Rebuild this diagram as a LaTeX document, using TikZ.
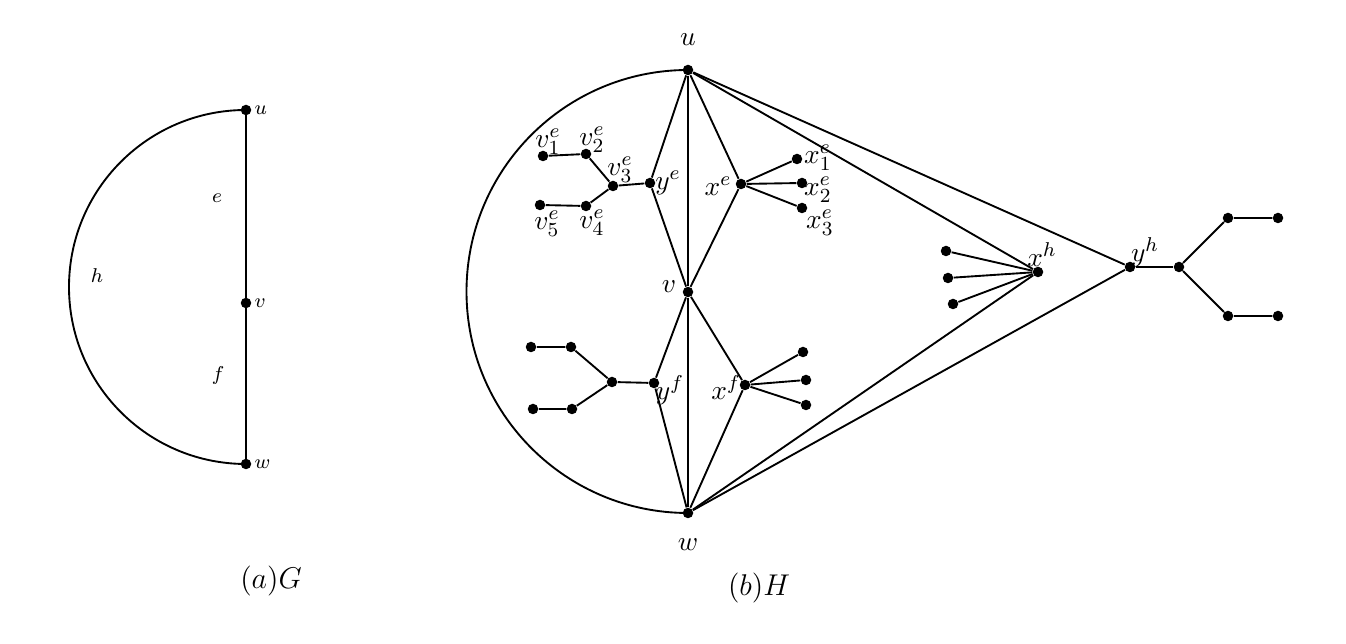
\documentclass[tikz,border=0pt]{standalone}
\usetikzlibrary{calc}
\begin{document}
\begin{tikzpicture}[x=0.4pt,y=0.4pt,
  dot/.style={circle,fill=black,draw=none,inner sep=0pt,minimum size=4.2pt},
  edge/.style={line width=0.75pt},
  lab/.style={inner sep=0pt,font=\fontsize{11}{13}\selectfont},
  slab/.style={inner sep=0pt,font=\footnotesize},
  captxt/.style={inner sep=0pt,font=\fontsize{12}{14}\selectfont}]
\useasboundingbox (0,0) rectangle (1346,644);
% ---------- (a) G ----------
\node[dot] (gu) at (246,534) {};
\node[dot] (gv) at (246,341) {};
\node[dot] (gw) at (246,180) {};
\draw[edge] (gu.center) -- (gv.center) -- (gw.center);
\draw[edge] (gu.center) arc[start angle=90,end angle=270,radius=70.8pt];
\node[slab,anchor=west] (lgu) at (254,534) {$u$};
\node[slab,anchor=west] (lgv) at (254,341) {$v$};
\node[slab,anchor=west] (lgw) at (254,180) {$w$};
\node[slab] (le) at (217,446) {$e$};
\node[slab] (lh) at (97,368) {$h$};
\node[slab] (lf) at (218,268) {$f$};
\node[captxt] (capa) at (271,63) {$(a)G$};
% ---------- (b) H ----------
\node[dot] (u) at (688,574) {};
\node[dot] (v) at (688,352) {};
\node[dot] (w) at (688,131) {};
\draw[edge] (u.center) arc[start angle=90,end angle=270,radius=88.6pt];
\draw[edge] (u) -- (v) -- (w);
% y^e tree
\node[dot] (ye) at (650,461) {};
\node[dot] (v3) at (613,458) {};
\node[dot] (v2) at (586,490) {};
\node[dot] (v1) at (543,488) {};
\node[dot] (v4) at (586,438) {};
\node[dot] (v5) at (540,439) {};
\draw[edge] (u) -- (ye) -- (v);
\draw[edge] (ye) -- (v3) -- (v2) -- (v1);
\draw[edge] (v3) -- (v4) -- (v5);
% x^e star
\node[dot] (xe) at (741,460) {};
\node[dot] (x1) at (797,485) {};
\node[dot] (x2) at (802,461) {};
\node[dot] (x3) at (802,436) {};
\draw[edge] (u) -- (xe) -- (v);
\draw[edge] (xe) -- (x1);
\draw[edge] (xe) -- (x2);
\draw[edge] (xe) -- (x3);
% y^f tree
\node[dot] (yf) at (654,261) {};
\node[dot] (f3) at (612,262) {};
\node[dot] (f2) at (571,297) {};
\node[dot] (f1) at (531,297) {};
\node[dot] (f4) at (572,235) {};
\node[dot] (f5) at (533,235) {};
\draw[edge] (v) -- (yf) -- (w);
\draw[edge] (yf) -- (f3) -- (f2) -- (f1);
\draw[edge] (f3) -- (f4) -- (f5);
% x^f star
\node[dot] (xf) at (745,259) {};
\node[dot] (xf1) at (803,292) {};
\node[dot] (xf2) at (806,264) {};
\node[dot] (xf3) at (806,239) {};
\draw[edge] (v) -- (xf) -- (w);
\draw[edge] (xf) -- (xf1);
\draw[edge] (xf) -- (xf2);
\draw[edge] (xf) -- (xf3);
% x^h star
\node[dot] (xh) at (1038,372) {};
\node[dot] (xh1) at (946,393) {};
\node[dot] (xh2) at (948,366) {};
\node[dot] (xh3) at (953,340) {};
\draw[edge] (u) -- (xh) -- (w);
\draw[edge] (xh) -- (xh1);
\draw[edge] (xh) -- (xh2);
\draw[edge] (xh) -- (xh3);
% y^h tree
\node[dot] (yh) at (1130,377) {};
\node[dot] (yh2) at (1179,377) {};
\node[dot] (yh3) at (1228,426) {};
\node[dot] (yh4) at (1278,426) {};
\node[dot] (yh5) at (1228,328) {};
\node[dot] (yh6) at (1278,328) {};
\draw[edge] (u) -- (yh) -- (w);
\draw[edge] (yh) -- (yh2);
\draw[edge] (yh2) -- (yh3) -- (yh4);
\draw[edge] (yh2) -- (yh5) -- (yh6);
% labels
\node[lab] (lu) at (688,604) {$u$};
\node[lab] (lw) at (688,99) {$w$};
\node[lab] (lv) at (669,357) {$v$};
\node[lab] (lye) at (668,461) {$y^e$};
\node[lab] (lv1) at (548,502) {$v_1^e$};
\node[lab] (lv2) at (592,504) {$v_2^e$};
\node[lab] (lv3) at (620,474) {$v_3^e$};
\node[lab] (lv4) at (592,421) {$v_4^e$};
\node[lab] (lv5) at (547,420) {$v_5^e$};
\node[lab] (lxe) at (718,458) {$x^e$};
\node[lab] (lx1) at (818,486) {$x_1^e$};
\node[lab] (lx2) at (818,454) {$x_2^e$};
\node[lab] (lx3) at (820,421) {$x_3^e$};
\node[lab] (lyf) at (670,254) {$y^f$};
\node[lab] (lxf) at (726,256) {$x^f$};
\node[lab] (lxh) at (1042,389) {$x^h$};
\node[lab] (lyh) at (1145,392) {$y^h$};
\node[captxt] (capb) at (759,56) {$(b)H$};
\end{tikzpicture}
\end{document}
